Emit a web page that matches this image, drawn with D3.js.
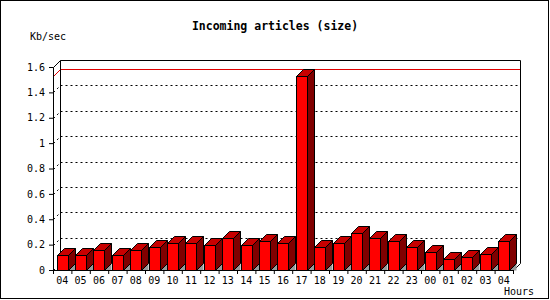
<!DOCTYPE html>
<html>
<head>
<meta charset="utf-8">
<script src="https://cdn.jsdelivr.net/npm/d3@7"></script>
<style>
  body { margin: 0; background: #fff; }
  text { font-family: "DejaVu Sans Mono", monospace; }
</style>
</head>
<body>
<div id="chart"></div>
<script>
const width = 550;
const height = 300;

const hours = ["04", "05", "06", "07", "08", "09", "10", "11", "12", "13",
  "14", "15", "16", "17", "18", "19", "20", "21", "22", "23",
  "00", "01", "02", "03", "04"];
const sizeKb = [0.12, 0.12, 0.155, 0.12, 0.155, 0.185, 0.21, 0.21, 0.2, 0.25,
  0.2, 0.225, 0.21, 1.53, 0.18, 0.21, 0.29, 0.25, 0.225, 0.18,
  0.145, 0.09, 0.1, 0.13, 0.225];
const yTicks = [0, 0.2, 0.4, 0.6, 0.8, 1, 1.2, 1.4, 1.6];

const plotLeft = 53, plotRight = 513, plotTop = 67, plotBottom = 270;
const depth = 7;

const svg = d3
  .select("#chart")
  .append("svg")
  .attr("width", width)
  .attr("height", height);

// frame
svg.append("rect")
  .attr("x", 0.5).attr("y", 0.5)
  .attr("width", width - 2).attr("height", height - 2)
  .attr("fill", "#fff").attr("stroke", "#000");

const x = d3.scaleBand()
  .domain(d3.range(hours.length))
  .range([plotLeft, plotRight])
  .paddingInner(0.4)
  .paddingOuter(0.2);

const xEdge = d3.scaleLinear().domain([0, hours.length]).range([plotLeft, plotRight]);

const y = d3.scaleLinear().domain([0, 1.6]).range([plotBottom, plotTop]);

// BACK WALL

const back = svg.append("g").attr("transform", "translate(0.5,0.5)");

back.selectAll(".grid")
  .data(yTicks.slice(1, -1))
  .enter()
  .append("line")
  .attr("x1", plotLeft + depth)
  .attr("x2", plotRight + depth)
  .attr("y1", d => Math.round(y(d)) - depth)
  .attr("y2", d => Math.round(y(d)) - depth)
  .attr("stroke", "#000")
  .attr("stroke-dasharray", "2,3");

back.selectAll(".side-grid")
  .data(yTicks.slice(0, -1))
  .enter()
  .append("line")
  .attr("x1", plotLeft)
  .attr("x2", plotLeft + depth)
  .attr("y1", d => Math.round(y(d)))
  .attr("y2", d => Math.round(y(d)) - depth)
  .attr("stroke", "#000")
  .attr("stroke-dasharray", "2,3");

// max line
const maxY = Math.round(y(d3.max(sizeKb)));
back.append("path")
  .attr("d", `M${plotLeft},${maxY}L${plotLeft + depth},${maxY - depth}H${plotRight + depth}`)
  .attr("fill", "none")
  .attr("stroke", "#e00000");

// walls outline
back.append("path")
  .attr("d", `M${plotLeft},${plotTop}L${plotLeft + depth},${plotTop - depth}V${plotBottom - depth}` +
    `M${plotLeft + depth},${plotTop - depth}H${plotRight + depth}V${plotBottom - depth}L${plotRight},${plotBottom}`)
  .attr("fill", "none")
  .attr("stroke", "#000");

// BARS

const bars = svg.append("g")
  .attr("transform", "translate(0.5,0.5)")
  .selectAll("g")
  .data(sizeKb)
  .enter()
  .append("g");

const bw = Math.round(x.bandwidth());

bars.append("path")
  .attr("fill", "#999")
  .attr("d", (d, i) => {
    const x1 = Math.round(x(i)) + bw;
    return `M${x1},${plotBottom}L${x1 + depth},${plotBottom - depth}L${x1 + depth},${plotBottom}Z`;
  });

bars.append("path")
  .attr("fill", "#800000")
  .attr("stroke", "#000")
  .attr("d", (d, i) => {
    const x1 = Math.round(x(i)) + bw, yt = Math.round(y(d));
    return `M${x1},${yt}L${x1 + depth},${yt - depth}V${plotBottom - depth}L${x1},${plotBottom}Z`;
  });

bars.append("path")
  .attr("fill", "#c80000")
  .attr("stroke", "#000")
  .attr("d", (d, i) => {
    const x0 = Math.round(x(i)), yt = Math.round(y(d));
    return `M${x0},${yt}L${x0 + depth},${yt - depth}H${x0 + bw + depth}L${x0 + bw},${yt}Z`;
  });

bars.append("rect")
  .attr("fill", "#ff0000")
  .attr("stroke", "#000")
  .attr("x", (d, i) => Math.round(x(i)))
  .attr("y", d => Math.round(y(d)))
  .attr("width", bw)
  .attr("height", d => plotBottom - Math.round(y(d)));

// AXES

const yAxis = svg.append("g")
  .attr("transform", `translate(${plotLeft},0)`)
  .call(d3.axisLeft(y).tickValues(yTicks).tickSize(4).tickPadding(4)
    .tickFormat(d => +d.toFixed(1)));

const xEdgeAxis = svg.append("g")
  .attr("transform", `translate(0,${plotBottom})`)
  .call(d3.axisBottom(xEdge).tickValues(d3.range(hours.length + 1)).tickSize(4)
    .tickFormat(""));

const xAxis = svg.append("g")
  .attr("transform", `translate(0,${plotBottom})`)
  .call(d3.axisBottom(x).tickSize(0).tickFormat(i => hours[i]));

xAxis.select(".domain").remove();
xAxis.selectAll("text").attr("y", 14).attr("dy", 0);

[yAxis, xEdgeAxis].forEach(g => {
  g.select(".domain").attr("stroke", "#000");
  g.selectAll("line").attr("stroke", "#000");
});

svg.selectAll(".tick text")
  .attr("font-family", "DejaVu Sans Mono")
  .attr("font-size", 10)
  .attr("fill", "#000");

// TITLES

svg.append("text")
  .attr("x", 275)
  .attr("y", 30)
  .attr("text-anchor", "middle")
  .attr("font-weight", "bold")
  .attr("font-size", 11.5)
  .text("Incoming articles (size)");

svg.append("text")
  .attr("x", 30)
  .attr("y", 40)
  .attr("font-size", 10)
  .text("Kb/sec");

svg.append("text")
  .attr("x", 534)
  .attr("y", 295)
  .attr("text-anchor", "end")
  .attr("font-size", 10)
  .text("Hours");
</script>
</body>
</html>
